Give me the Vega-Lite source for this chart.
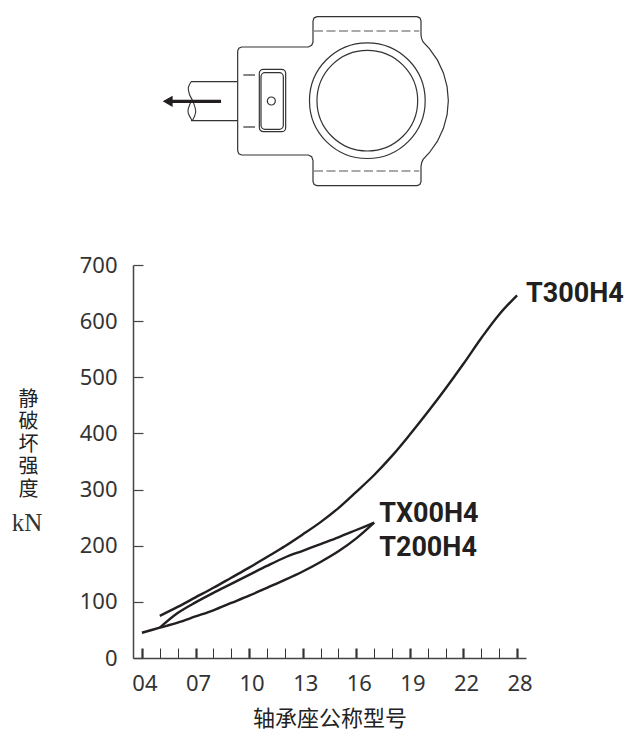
{
"$schema":"https://vega.github.io/schema/vega-lite/v6.json",
"width":393,"height":393,
"autosize":"none",
"padding":{"left":133,"top":265,"right":104,"bottom":75},
"background":"white",
"config":{"view":{"stroke":null}},
"datasets":{
"curves":[
{"series":"T300H4","size":"05","kN":75},{"series":"T300H4","size":"06","kN":91},{"series":"T300H4","size":"07","kN":108},{"series":"T300H4","size":"08","kN":125},{"series":"T300H4","size":"09","kN":143},{"series":"T300H4","size":"10","kN":161},{"series":"T300H4","size":"11","kN":180},{"series":"T300H4","size":"12","kN":199},{"series":"T300H4","size":"13","kN":220},{"series":"T300H4","size":"14","kN":242},{"series":"T300H4","size":"15","kN":267},{"series":"T300H4","size":"16","kN":296},{"series":"T300H4","size":"17","kN":326},{"series":"T300H4","size":"18","kN":360},{"series":"T300H4","size":"19","kN":398},{"series":"T300H4","size":"20","kN":438},{"series":"T300H4","size":"21","kN":480},{"series":"T300H4","size":"22","kN":524},{"series":"T300H4","size":"24","kN":570},{"series":"T300H4","size":"26","kN":612},{"series":"T300H4","size":"28","kN":646},
{"series":"T200H4","size":"04","kN":45},{"series":"T200H4","size":"05","kN":54},{"series":"T200H4","size":"06","kN":63},{"series":"T200H4","size":"07","kN":74},{"series":"T200H4","size":"08","kN":85},{"series":"T200H4","size":"09","kN":98},{"series":"T200H4","size":"10","kN":111},{"series":"T200H4","size":"11","kN":125},{"series":"T200H4","size":"12","kN":139},{"series":"T200H4","size":"13","kN":154},{"series":"T200H4","size":"14","kN":171},{"series":"T200H4","size":"15","kN":190},{"series":"T200H4","size":"16","kN":213},{"series":"T200H4","size":"17","kN":241},
{"series":"TX00H4","size":"05","kN":54},{"series":"TX00H4","size":"06","kN":80},{"series":"TX00H4","size":"07","kN":99},{"series":"TX00H4","size":"08","kN":116},{"series":"TX00H4","size":"09","kN":132},{"series":"TX00H4","size":"10","kN":148},{"series":"TX00H4","size":"11","kN":164},{"series":"TX00H4","size":"12","kN":179},{"series":"TX00H4","size":"13","kN":191},{"series":"TX00H4","size":"14","kN":203},{"series":"TX00H4","size":"15","kN":215},{"series":"TX00H4","size":"16","kN":228},{"series":"TX00H4","size":"17","kN":241}
],
"outline":[
{"part":"body","i":0,"u":519,"v":62},{"part":"body","i":1,"u":522.5,"v":53.5},{"part":"body","i":2,"u":531,"v":50},{"part":"body","i":3,"u":831,"v":50},{"part":"body","i":4,"u":839.5,"v":53.5},{"part":"body","i":5,"u":843,"v":62},{"part":"body","i":6,"u":843,"v":105},{"part":"body","i":7,"u":845,"v":116},{"part":"body","i":8,"u":849.3,"v":125.7},{"part":"body","i":9,"u":868.1,"v":145.8},{"part":"body","i":10,"u":892.4,"v":180.5},{"part":"body","i":11,"u":910.3,"v":218.9},{"part":"body","i":12,"u":921.3,"v":259.8},{"part":"body","i":13,"u":925,"v":302},{"part":"body","i":14,"u":921.3,"v":344.2},{"part":"body","i":15,"u":910.3,"v":385.1},{"part":"body","i":16,"u":892.4,"v":423.5},{"part":"body","i":17,"u":868.1,"v":458.2},{"part":"body","i":18,"u":849.3,"v":478.3},{"part":"body","i":19,"u":845,"v":488},{"part":"body","i":20,"u":843,"v":499},{"part":"body","i":21,"u":843,"v":545},{"part":"body","i":22,"u":839.5,"v":553.5},{"part":"body","i":23,"u":831,"v":557},{"part":"body","i":24,"u":531,"v":557},{"part":"body","i":25,"u":522.5,"v":553.5},{"part":"body","i":26,"u":519,"v":545},{"part":"body","i":27,"u":519,"v":482},{"part":"body","i":28,"u":515,"v":470},{"part":"body","i":29,"u":505,"v":465},{"part":"body","i":30,"u":305,"v":465},{"part":"body","i":31,"u":296.5,"v":461.5},{"part":"body","i":32,"u":293,"v":453},{"part":"body","i":33,"u":293,"v":153},{"part":"body","i":34,"u":296.5,"v":144.5},{"part":"body","i":35,"u":305,"v":141},{"part":"body","i":36,"u":505,"v":141},{"part":"body","i":37,"u":515,"v":136},{"part":"body","i":38,"u":519,"v":127},{"part":"body","i":39,"u":519,"v":62},
{"part":"shaftTop","i":0,"u":153,"v":245},{"part":"shaftTop","i":1,"u":293,"v":245},
{"part":"shaftBottom","i":0,"u":153,"v":362},{"part":"shaftBottom","i":1,"u":293,"v":362},
{"part":"mark1","i":0,"u":310,"v":225},{"part":"mark1","i":1,"u":345,"v":225},
{"part":"mark2","i":0,"u":310,"v":381},{"part":"mark2","i":1,"u":345,"v":381}
],
"breaks":[
{"part":"s1","i":0,"u":153,"v":245},{"part":"s1","i":1,"u":145,"v":263},{"part":"s1","i":2,"u":148,"v":282},{"part":"s1","i":3,"u":159,"v":305},{"part":"s1","i":4,"u":167,"v":335},{"part":"s1","i":5,"u":157,"v":362},
{"part":"s2","i":0,"u":153,"v":305},{"part":"s2","i":1,"u":144,"v":335},{"part":"s2","i":2,"u":157,"v":362}
],
"dashes":[
{"part":"top","u":522,"v":93},{"part":"top","u":838,"v":93},
{"part":"bottom","u":522,"v":513},{"part":"bottom","u":838,"v":513}
],
"plates":[{"u":358,"u2":437,"v":208,"v2":395},{"u":363,"u2":430,"v":218,"v2":388}],
"arrow":[{"u":243,"v":304},{"u":95,"v":304}]
},
"layer":[
{"layer":[
{"data":{"name":"curves"},
"mark":{"type":"line","interpolate":"catmull-rom","color":"#231f20","strokeWidth":2.4},
"encoding":{
"x":{"field":"size","type":"ordinal","title":"轴承座公称型号",
"scale":{"type":"point","padding":0.5,"domain":["04","05","06","07","08","09","10","11","12","13","14","15","16","17","18","19","20","21","22","24","26","28"]},
"axis":{"orient":"bottom","labelAngle":0,"labelOverlap":false,"labelExpr":"indexof(['04','07','10','13','16','19','22','28'],datum.value)>=0?datum.value:''","labelFont":"Noto Sans","labelFontSize":22,"labelColor":"#333333","labelPadding":25,"labelOffset":2.5,"tickSize":-10,"tickColor":"#333333","tickWidth":{"condition":{"test":"indexof(['04','07','10','13','16','19','22','28'],datum.value)>=0","value":2.2},"value":1},"domainColor":"#444444","domainWidth":1.5,"grid":false,"titleFont":"Noto Sans CJK SC","titleFontWeight":"normal","titleFontSize":22,"titleColor":"#222222","titlePadding":14}},
"y":{"field":"kN","type":"quantitative","scale":{"domain":[0,700],"nice":false},
"title":["静","破","坏","强","度"],
"axis":{"values":[0,100,200,300,400,500,600,700],"labelFont":"Noto Sans","labelFontSize":22,"labelColor":"#333333","labelPadding":26,"tickSize":-10,"tickColor":"#444444","tickWidth":1.2,"domainColor":"#444444","domainWidth":1.5,"grid":false,"titleFont":"Noto Sans CJK SC","titleFontWeight":"normal","titleFontSize":20,"titleColor":"#222222","titleAngle":0,"titleLineHeight":22.5,"titleX":-105,"titleY":124,"titleAlign":"center","titleBaseline":"top"}},
"detail":{"field":"series"}
}},
{"data":{"values":[{"label":"T300H4","size":"28","kN":646}]},
"mark":{"type":"text","align":"left","baseline":"middle","dx":9,"dy":-1,"font":"Roboto","fontWeight":"bold","fontSize":27,"color":"#231f20"},
"encoding":{"x":{"field":"size","type":"ordinal"},"y":{"field":"kN","type":"quantitative"},"text":{"field":"label"}}},
{"data":{"values":[{"label":"TX00H4","size":"17","kN":241}]},
"mark":{"type":"text","align":"left","baseline":"middle","dx":5,"dy":-9,"font":"Roboto","fontWeight":"bold","fontSize":27,"color":"#231f20"},
"encoding":{"x":{"field":"size","type":"ordinal"},"y":{"field":"kN","type":"quantitative"},"text":{"field":"label"}}},
{"data":{"values":[{"label":"T200H4","size":"17","kN":241}]},
"mark":{"type":"text","align":"left","baseline":"middle","dx":5,"dy":25,"font":"Roboto","fontWeight":"bold","fontSize":27,"color":"#231f20"},
"encoding":{"x":{"field":"size","type":"ordinal"},"y":{"field":"kN","type":"quantitative"},"text":{"field":"label"}}}
]},
{"encoding":{
"x":{"field":"u","type":"quantitative","scale":{"domain":[-21,1158],"nice":false,"zero":false},"axis":null},
"y":{"field":"v","type":"quantitative","scale":{"domain":[1974,795],"nice":false,"zero":false},"axis":null}
},
"layer":[
{"data":{"name":"outline"},"mark":{"type":"line","color":"#333333","strokeWidth":1.2},"encoding":{"detail":{"field":"part"},"order":{"field":"i"}}},
{"data":{"name":"breaks"},"mark":{"type":"line","interpolate":"catmull-rom","color":"#333333","strokeWidth":1.1},"encoding":{"detail":{"field":"part"},"order":{"field":"i"}}},
{"data":{"name":"dashes"},"mark":{"type":"line","color":"#555555","strokeWidth":1.1,"strokeDash":[9,3.5]},"encoding":{"detail":{"field":"part"}}},
{"data":{"name":"plates"},"mark":{"type":"rect","fill":null,"fillOpacity":0,"stroke":"#333333","strokeWidth":1.2,"cornerRadius":4},"encoding":{"x2":{"field":"u2"},"y2":{"field":"v2"}}},
{"data":{"values":[{"u":682,"v":302}]},"mark":{"type":"point","shape":"circle","filled":false,"size":13386,"color":"#333333","opacity":1,"strokeWidth":1.2}},
{"data":{"values":[{"u":682,"v":302}]},"mark":{"type":"point","shape":"circle","filled":false,"size":10140,"color":"#333333","opacity":1,"strokeWidth":1.2}},
{"data":{"values":[{"u":394,"v":303}]},"mark":{"type":"point","shape":"circle","filled":false,"size":64,"color":"#333333","opacity":1,"strokeWidth":1.2}},
{"data":{"name":"arrow"},"mark":{"type":"line","color":"#231f20","strokeWidth":3.3}},
{"data":{"values":[{"u":83,"v":304}]},"mark":{"type":"point","shape":"triangle-left","filled":true,"size":130,"color":"#231f20","opacity":1}},
{"data":{"values":[{"u":-339,"v":1569,"label":"kN"}]},"mark":{"type":"text","font":"Liberation Serif","fontSize":25,"color":"#333333","baseline":"middle","align":"center"},"encoding":{"text":{"field":"label"}}}
]}
],
"resolve":{"scale":{"x":"independent","y":"independent"}}
}
